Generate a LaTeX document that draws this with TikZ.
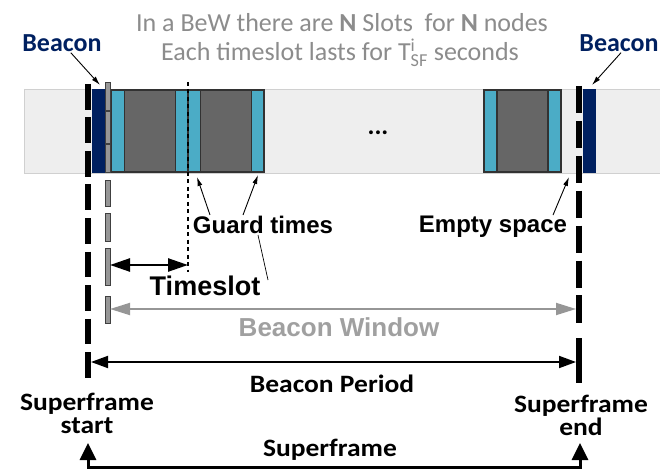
\documentclass[tikz,border=0pt]{standalone}
\usepackage{fontspec}
\setmainfont{Carlito}
\newfontfamily\arialfont{Liberation Sans}
\newfontfamily\calwide{Carlito}[FakeStretch=1.1]
\usetikzlibrary{arrows.meta}

\definecolor{band}{RGB}{238,238,238}
\definecolor{bandedge}{RGB}{208,208,208}
\definecolor{navy}{RGB}{0,32,96}
\definecolor{aqua}{RGB}{75,172,198}
\definecolor{slotgray}{RGB}{102,102,102}
\definecolor{celledge}{RGB}{50,50,50}
\definecolor{titlegray}{RGB}{140,140,140}
\definecolor{wingray}{RGB}{160,160,160}
\definecolor{bargray}{RGB}{150,150,150}

\tikzset{
  cell/.style={draw=celledge, line width=1.2pt},
  aquacell/.style={cell, fill=aqua},
  graycell/.style={cell, fill=slotgray},
  bcnblock/.style={fill=navy},
  bcnline/.style={line width=6pt},
  gbar/.style={fill=bargray, draw=black!75, line width=0.6pt},
  ptr/.style={-{Latex[length=9pt,width=5pt]}, line width=0.9pt},
  plainline/.style={line width=0.7pt},
  tsarrow/.style={{Triangle[length=20pt,width=13pt]}-{Triangle[length=20pt,width=13pt]}, line width=2.5pt},
  bwarrow/.style={{Triangle[length=20pt,width=12pt]}-{Triangle[length=20pt,width=12pt]}, line width=1.8pt, draw=bargray, fill=bargray},
  bparrow/.style={{Triangle[length=17pt,width=12pt]}-{Triangle[length=17pt,width=12pt]}, line width=1.8pt},
  sfarrow/.style={{Triangle[length=17pt,width=16pt]}-{Triangle[length=17pt,width=16pt]}, line width=3pt},
  title/.style={text=titlegray, font=\fontsize{26}{30}\selectfont, inner sep=1pt},
  bcnlab/.style={text=navy, font=\bfseries\fontsize{26}{30}\selectfont, inner sep=1pt},
  alab/.style={font=\arialfont\bfseries\fontsize{24}{28}\selectfont, inner sep=1pt},
  clab/.style={font=\calwide\bfseries\fontsize{25}{23}\selectfont, inner sep=0pt, align=center},
}

\begin{document}
\begin{tikzpicture}[x=1pt, y=-1pt]
\useasboundingbox (0,0) rectangle (660,470);

% timeline band
\fill[band] (24,89) rectangle (660,173);
\draw[bandedge, line width=0.8pt] (24,89) -- (660,89) (24,173) -- (660,173) (24,89) -- (24,173);

% beacons at both ends of the superframe
\fill[bcnblock] (91.5,89) rectangle (105,173);
\fill[bcnblock] (582.5,89) rectangle (596,173);

% first two slots
\draw[aquacell] (111.5,90) rectangle (124.5,172);
\draw[graycell] (124.5,90) rectangle (175.5,172);
\draw[aquacell] (175.5,90) rectangle (188,172);
\draw[aquacell] (188,90) rectangle (200.5,172);
\draw[graycell] (200.5,90) rectangle (251.5,172);
\draw[aquacell] (251.5,90) rectangle (264,172);
\draw[celledge, line width=1.2pt] (110.5,89.5) rectangle (264.5,172.5);

% last slot
\draw[aquacell] (484,90) rectangle (497,172);
\draw[graycell] (497,90) rectangle (548,172);
\draw[aquacell] (548,90) rectangle (561,172);

\node[font=\bfseries\fontsize{26}{30}\selectfont] (dots) at (378,133) {...};

% beacon window start marker
\foreach \ya/\yb in {82/110, 111.5/143, 144.5/172.5, 180/206, 213/241, 248/285, 296/323}
  \draw[gbar] (105.5,\ya) rectangle (110,\yb);

% superframe boundaries
\coordinate (lt) at (88,84);
\coordinate (lb) at (88,378);
\coordinate (rt) at (579,86);
\coordinate (rb) at (579,323);
\coordinate (rbt) at (579,338);
\coordinate (rbb) at (579,383);
\draw[bcnline, dash pattern=on 25.9pt off 7.6pt] (lt) -- (lb);
\draw[bcnline, dash pattern=on 27.4pt off 7.5pt] (rt) -- (rb);
\draw[bcnline] (rbt) -- (rbb);

% slot boundary
\coordinate (dt) at (188,82);
\coordinate (db) at (188,272);
\draw[line width=1.3pt, dash pattern=on 4pt off 3.5pt] (dt) -- (db);

% header text
\node[title] (t1) at (342,23) {In a BeW there are \textbf{N} Slots\ \ for \textbf{N} nodes};
\node[title] (t2) at (340,53) {Each timeslot lasts for T$^{\mathrm{i}}_{\mathrm{SF}}$ seconds};

% beacon labels
\node[bcnlab] (bl) at (62,43) {Beacon};
\node[bcnlab] (br) at (619,43) {Beacon};
\coordinate (blp) at (100,85);
\coordinate (brp) at (592,85);
\draw[ptr] (bl) -- (blp);
\draw[ptr] ([xshift=2pt]br.south) -- (brp);

% guard times
\node[alab] (gt) at (263,225) {Guard times};
\coordinate (g1) at (197,177);
\coordinate (g2) at (258,175);
\draw[ptr] ([xshift=-53pt]gt.north) -- (g1);
\draw[ptr] ([xshift=-20pt]gt.north) -- (g2);

% empty space
\node[alab] (es) at (493,227) {Empty space};
\coordinate (ep) at (569,177);
\draw[ptr] ([xshift=60pt]es.north) -- (ep);

% timeslot
\node[alab, font=\arialfont\bfseries\fontsize{27}{30}\selectfont] (ts) at (205,286) {Timeslot};
\coordinate (ts1) at (110,265);
\coordinate (ts2) at (188,265);
\draw[tsarrow] (ts1) -- (ts2);
\coordinate (gl) at (268,280);
\draw[plainline] ([xshift=-5pt]gt.south) -- (gl);

% beacon window
\node[alab, text=wingray, font=\arialfont\bfseries\fontsize{26}{30}\selectfont] (bw) at (339,327) {Beacon Window};
\coordinate (bw1) at (110,309);
\coordinate (bw2) at (576,309);
\draw[bwarrow] (bw1) -- (bw2);

% beacon period
\node[clab] (bp) at (332,384) {Beacon Period};
\coordinate (bp1) at (91,362);
\coordinate (bp2) at (576,362);
\draw[bparrow] (bp1) -- (bp2);

% superframe
\node[clab] (ss) at (87,413) {Superframe\\start};
\node[clab] (se) at (581,415) {Superframe\\end};
\node[clab] (sf) at (330,450) {Superframe};
\coordinate (sf1) at (88,443);
\coordinate (sf2) at (580,443);
\draw[sfarrow] (sf1) -- ++(0,24) -| (sf2);
\end{tikzpicture}
\end{document}
